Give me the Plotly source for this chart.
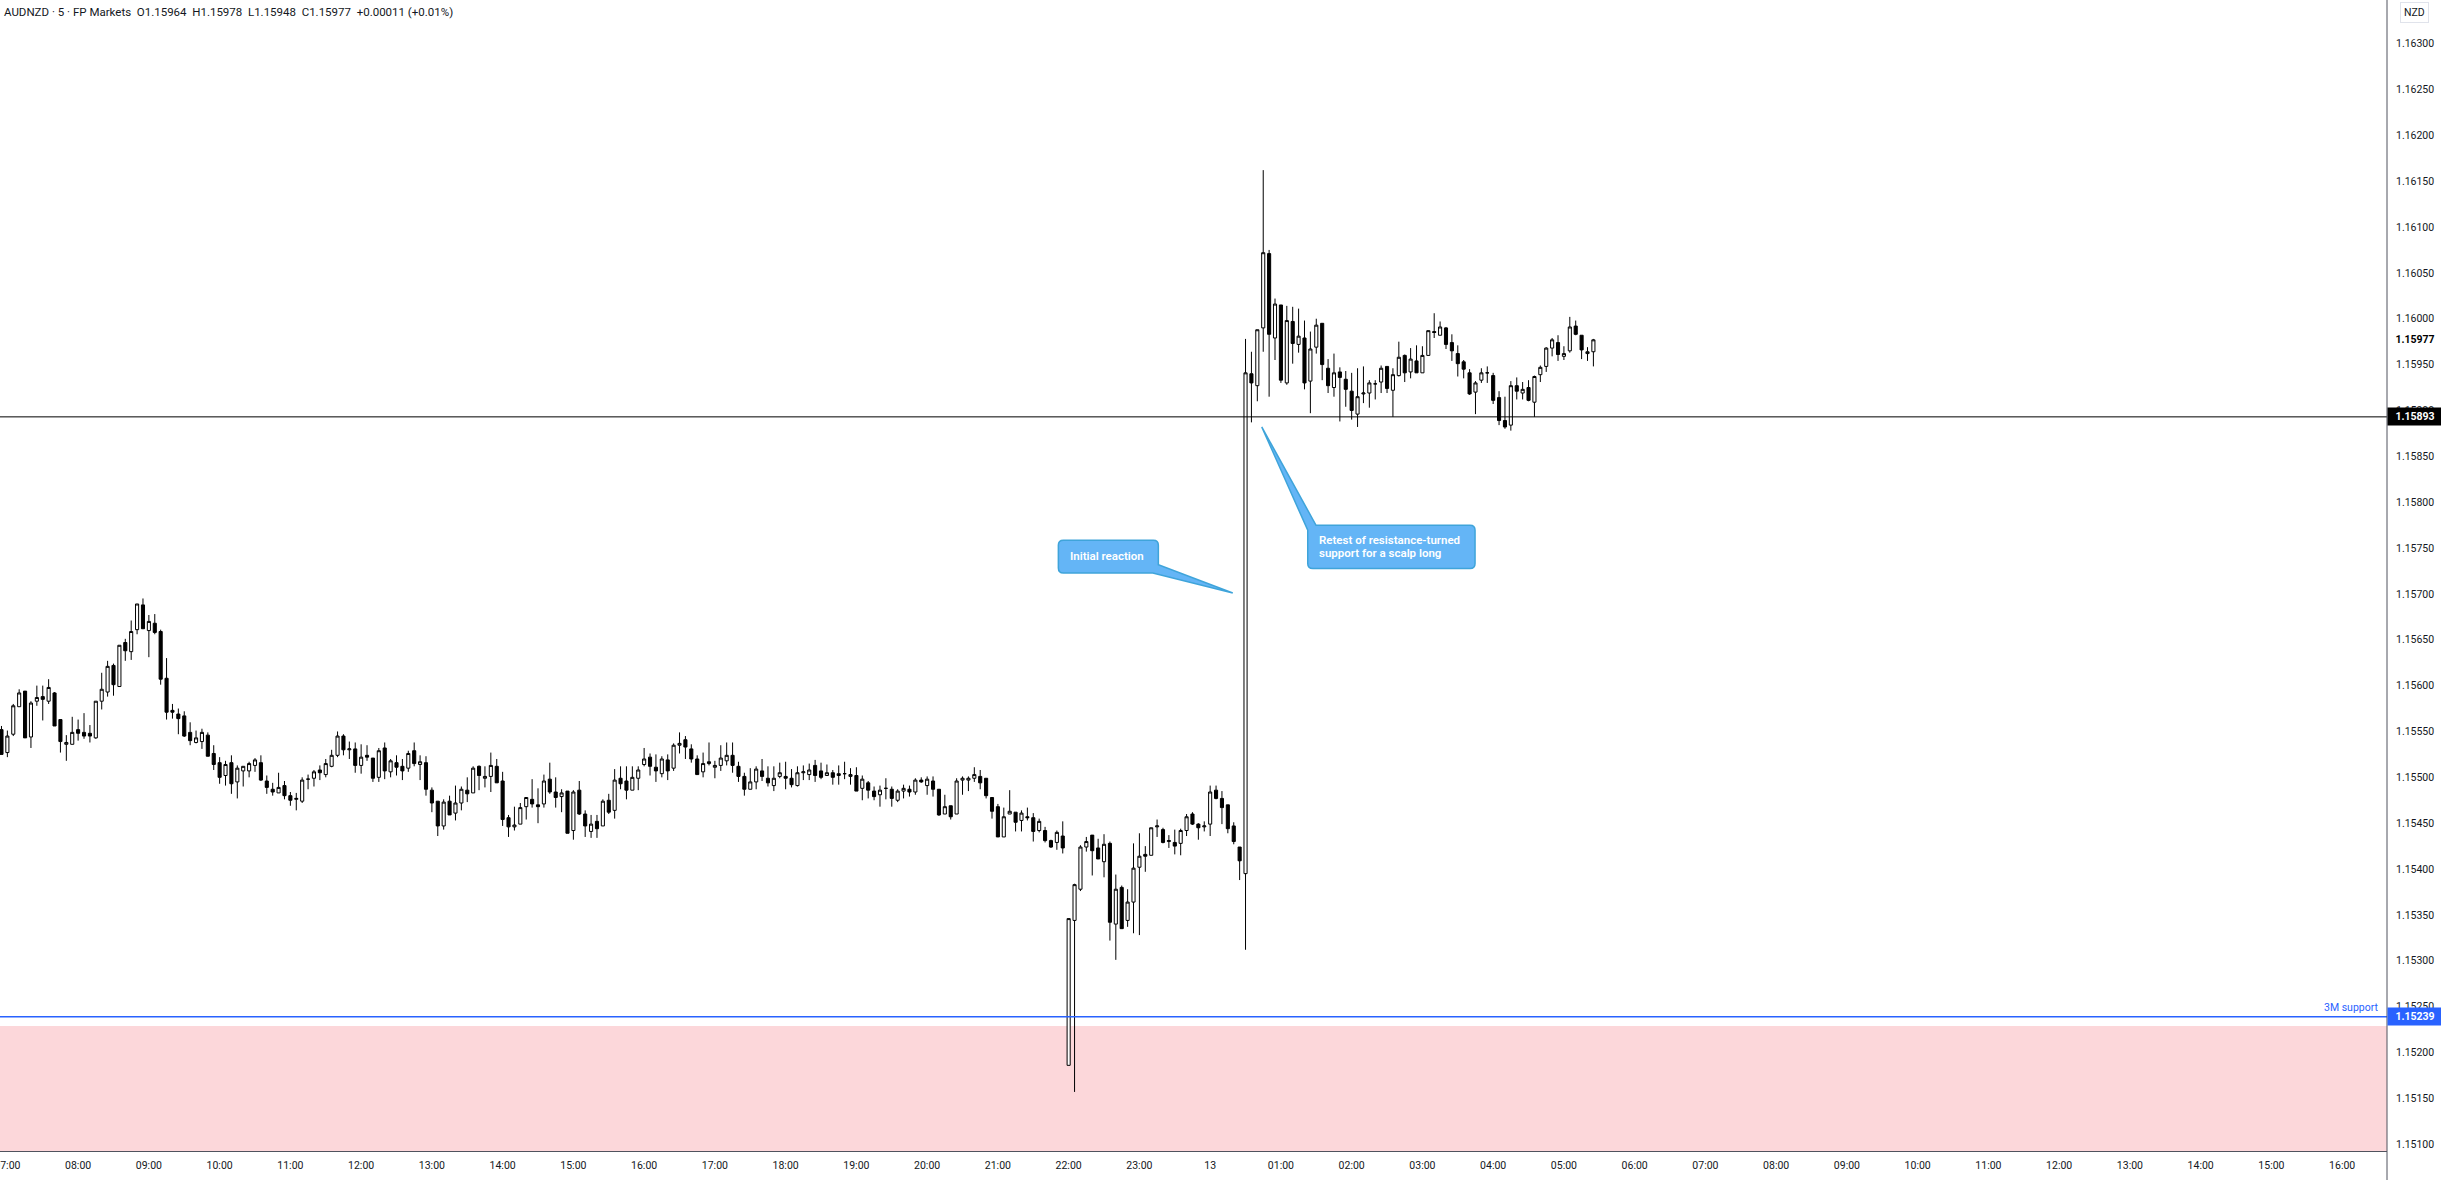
import plotly.graph_objects as go
import pandas as pd

# ---------------- data (AUDNZD, 5-minute candles) ----------------
open_ = [
    1.15552,1.15527,1.15547,1.15577,1.15594,1.15544,1.15583,1.15588,1.15583,1.15592,
    1.15563,1.15536,1.15536,1.15552,1.15549,1.15548,1.15543,1.15583,1.15593,1.15622,
    1.15599,1.15647,1.15637,1.15661,1.15688,1.15660,1.15668,1.15659,1.15608,1.15573,
    1.15569,1.15567,1.15549,1.15538,1.15539,1.15546,1.15526,1.15516,1.15502,1.15516,
    1.15495,1.15507,1.15507,1.15513,1.15516,1.15496,1.15487,1.15483,1.15491,1.15480,
    1.15476,1.15474,1.15498,1.15499,1.15508,1.15503,1.15512,1.15524,1.15545,1.15530,
    1.15531,1.15513,1.15524,1.15521,1.15500,1.15532,1.15506,1.15516,1.15512,1.15510,
    1.15529,1.15514,1.15516,1.15486,1.15474,1.15447,1.15474,1.15461,1.15472,1.15486,
    1.15483,1.15512,1.15499,1.15501,1.15512,1.15496,1.15456,1.15446,1.15449,1.15468,
    1.15476,1.15470,1.15471,1.15498,1.15484,1.15479,1.15485,1.15442,1.15486,1.15460,
    1.15441,1.15452,1.15447,1.15475,1.15464,1.15499,1.15496,1.15486,1.15499,1.15514,
    1.15522,1.15511,1.15504,1.15519,1.15510,1.15535,1.15541,1.15531,1.15520,1.15506,
    1.15515,1.15511,1.15513,1.15518,1.15524,1.15512,1.15501,1.15487,1.15495,1.15507,
    1.15499,1.15491,1.15501,1.15501,1.15499,1.15491,1.15505,1.15503,1.15513,1.15507,
    1.15502,1.15505,1.15502,1.15504,1.15501,1.15502,1.15488,1.15494,1.15485,1.15481,
    1.15488,1.15487,1.15475,1.15485,1.15487,1.15484,1.15497,1.15491,1.15496,1.15487,
    1.15460,1.15469,1.15460,1.15497,1.15497,1.15499,1.15501,1.15499,1.15478,1.15468,
    1.15435,1.15460,1.15462,1.15453,1.15457,1.15456,1.15442,1.15442,1.15431,1.15429,
    1.15436,1.15186,1.15344,1.15378,1.15424,1.15437,1.15423,1.15408,1.15428,1.15340,
    1.15380,1.15344,1.15364,1.15402,1.15416,1.15415,1.15446,1.15443,1.15430,1.15429,
    1.15428,1.15442,1.15460,1.15449,1.15446,1.15449,1.15486,1.15477,1.15470,1.15447,
    1.15424,1.15395,1.15940,1.15927,1.15990,1.16071,1.15979,1.16015,1.15930,1.15997,
    1.15972,1.15979,1.15932,1.15969,1.15995,1.15946,1.15925,1.15942,1.15934,1.15921,
    1.15896,1.15918,1.15919,1.15929,1.15931,1.15948,1.15922,1.15938,1.15960,1.15942,
    1.15954,1.15941,1.15960,1.15986,1.15982,1.15990,1.15974,1.15962,1.15953,1.15941,
    1.15920,1.15933,1.15941,1.15938,1.15914,1.15889,1.15884,1.15927,1.15919,1.15925,
    1.15909,1.15939,1.15948,1.15968,1.15974,1.15959,1.15965,1.15992,1.15982,1.15962,
    1.15964,
]
high_ = [
    1.15556,1.15551,1.15580,1.15596,1.15594,1.15583,1.15600,1.15600,1.15607,1.15593,
    1.15563,1.15546,1.15566,1.15563,1.15570,1.15557,1.15583,1.15614,1.15627,1.15624,
    1.15644,1.15651,1.15671,1.15689,1.15695,1.15677,1.15678,1.15661,1.15630,1.15580,
    1.15575,1.15572,1.15560,1.15551,1.15553,1.15549,1.15535,1.15522,1.15518,1.15524,
    1.15513,1.15512,1.15517,1.15521,1.15524,1.15502,1.15494,1.15505,1.15496,1.15484,
    1.15483,1.15500,1.15503,1.15508,1.15513,1.15520,1.15530,1.15550,1.15547,1.15539,
    1.15538,1.15536,1.15535,1.15521,1.15532,1.15538,1.15520,1.15524,1.15520,1.15529,
    1.15538,1.15524,1.15523,1.15489,1.15474,1.15476,1.15480,1.15491,1.15490,1.15500,
    1.15512,1.15513,1.15512,1.15527,1.15520,1.15506,1.15459,1.15468,1.15472,1.15478,
    1.15498,1.15488,1.15503,1.15516,1.15500,1.15487,1.15485,1.15486,1.15496,1.15464,
    1.15459,1.15459,1.15476,1.15482,1.15509,1.15512,1.15512,1.15512,1.15512,1.15532,
    1.15526,1.15525,1.15523,1.15525,1.15537,1.15549,1.15545,1.15536,1.15524,1.15527,
    1.15538,1.15518,1.15535,1.15538,1.15538,1.15517,1.15505,1.15510,1.15512,1.15520,
    1.15512,1.15512,1.15516,1.15517,1.15509,1.15512,1.15513,1.15515,1.15519,1.15516,
    1.15514,1.15508,1.15513,1.15517,1.15510,1.15511,1.15502,1.15496,1.15490,1.15491,
    1.15499,1.15490,1.15487,1.15492,1.15491,1.15499,1.15500,1.15501,1.15501,1.15487,
    1.15481,1.15469,1.15499,1.15501,1.15501,1.15511,1.15508,1.15499,1.15478,1.15471,
    1.15467,1.15486,1.15462,1.15464,1.15467,1.15461,1.15455,1.15446,1.15432,1.15442,
    1.15452,1.15346,1.15384,1.15426,1.15435,1.15437,1.15433,1.15438,1.15430,1.15394,
    1.15382,1.15378,1.15428,1.15439,1.15425,1.15445,1.15454,1.15445,1.15437,1.15443,
    1.15444,1.15460,1.15462,1.15450,1.15452,1.15491,1.15491,1.15485,1.15470,1.15451,
    1.15424,1.15978,1.15964,1.15988,1.16162,1.16075,1.16022,1.16015,1.16014,1.16013,
    1.16011,1.15998,1.15986,1.16000,1.15995,1.15956,1.15962,1.15947,1.15943,1.15941,
    1.15946,1.15948,1.15933,1.15933,1.15949,1.15948,1.15946,1.15975,1.15961,1.15968,
    1.15971,1.15970,1.15987,1.16006,1.15997,1.15991,1.15983,1.15971,1.15955,1.15945,
    1.15932,1.15946,1.15948,1.15941,1.15921,1.15915,1.15932,1.15936,1.15931,1.15933,
    1.15938,1.15949,1.15969,1.15979,1.15982,1.15970,1.16002,1.15998,1.15982,1.15969,
    1.15978,
]
low_ = [
    1.15525,1.15522,1.15545,1.15577,1.15543,1.15532,1.15578,1.15562,1.15580,1.15556,
    1.15527,1.15518,1.15536,1.15540,1.15542,1.15538,1.15542,1.15574,1.15588,1.15589,
    1.15599,1.15627,1.15628,1.15656,1.15662,1.15631,1.15656,1.15601,1.15563,1.15564,
    1.15547,1.15544,1.15535,1.15537,1.15531,1.15523,1.15508,1.15493,1.15491,1.15482,
    1.15477,1.15490,1.15500,1.15506,1.15496,1.15482,1.15480,1.15483,1.15476,1.15469,
    1.15464,1.15472,1.15487,1.15490,1.15497,1.15500,1.15511,1.15522,1.15524,1.15520,
    1.15505,1.15504,1.15518,1.15495,1.15495,1.15498,1.15500,1.15502,1.15497,1.15506,
    1.15512,1.15497,1.15480,1.15462,1.15436,1.15443,1.15459,1.15453,1.15464,1.15473,
    1.15483,1.15486,1.15489,1.15484,1.15494,1.15447,1.15435,1.15442,1.15449,1.15454,
    1.15467,1.15450,1.15467,1.15482,1.15467,1.15462,1.15439,1.15432,1.15459,1.15435,
    1.15434,1.15434,1.15447,1.15460,1.15455,1.15487,1.15476,1.15486,1.15486,1.15512,
    1.15502,1.15495,1.15500,1.15497,1.15507,1.15526,1.15520,1.15516,1.15503,1.15500,
    1.15513,1.15499,1.15507,1.15513,1.15505,1.15495,1.15480,1.15487,1.15487,1.15496,
    1.15490,1.15485,1.15499,1.15487,1.15489,1.15490,1.15497,1.15497,1.15495,1.15498,
    1.15502,1.15492,1.15492,1.15498,1.15492,1.15485,1.15475,1.15477,1.15475,1.15468,
    1.15476,1.15468,1.15473,1.15477,1.15479,1.15481,1.15494,1.15481,1.15479,1.15458,
    1.15460,1.15454,1.15460,1.15481,1.15485,1.15495,1.15487,1.15477,1.15455,1.15435,
    1.15435,1.15460,1.15441,1.15441,1.15453,1.15430,1.15440,1.15429,1.15423,1.15421,
    1.15417,1.15186,1.15157,1.15376,1.15419,1.15393,1.15411,1.15391,1.15322,1.15301,
    1.15335,1.15337,1.15330,1.15328,1.15397,1.15415,1.15435,1.15428,1.15423,1.15416,
    1.15415,1.15436,1.15448,1.15432,1.15441,1.15436,1.15476,1.15449,1.15439,1.15427,
    1.15388,1.15312,1.15887,1.15910,1.15964,1.15915,1.15955,1.15930,1.15928,1.15951,
    1.15963,1.15923,1.15897,1.15962,1.15933,1.15919,1.15915,1.15888,1.15904,1.15890,
    1.15882,1.15908,1.15903,1.15912,1.15919,1.15919,1.15893,1.15937,1.15931,1.15935,
    1.15941,1.15941,1.15960,1.15979,1.15982,1.15967,1.15954,1.15937,1.15935,1.15917,
    1.15896,1.15930,1.15930,1.15907,1.15884,1.15880,1.15878,1.15912,1.15912,1.15910,
    1.15893,1.15931,1.15942,1.15959,1.15954,1.15955,1.15963,1.15982,1.15956,1.15954,
    1.15948,
]
close_ = [
    1.15525,1.15545,1.15578,1.15592,1.15543,1.15581,1.15587,1.15585,1.15598,1.15556,
    1.15539,1.15538,1.15549,1.15548,1.15545,1.15545,1.15583,1.15596,1.15621,1.15601,
    1.15644,1.15638,1.15659,1.15689,1.15662,1.15670,1.15658,1.15607,1.15571,1.15571,
    1.15564,1.15545,1.15540,1.15543,1.15549,1.15523,1.15514,1.15500,1.15514,1.15493,
    1.15510,1.15512,1.15515,1.15519,1.15497,1.15489,1.15484,1.15489,1.15480,1.15475,
    1.15477,1.15497,1.15498,1.15506,1.15505,1.15515,1.15524,1.15545,1.15530,1.15531,
    1.15513,1.15522,1.15522,1.15499,1.15529,1.15507,1.15518,1.15511,1.15507,1.15526,
    1.15515,1.15517,1.15487,1.15472,1.15447,1.15473,1.15459,1.15472,1.15487,1.15482,
    1.15510,1.15502,1.15501,1.15513,1.15494,1.15454,1.15446,1.15448,1.15467,1.15478,
    1.15471,1.15468,1.15496,1.15484,1.15478,1.15483,1.15439,1.15484,1.15460,1.15447,
    1.15449,1.15444,1.15474,1.15462,1.15497,1.15493,1.15486,1.15500,1.15508,1.15520,
    1.15512,1.15507,1.15520,1.15507,1.15535,1.15537,1.15533,1.15520,1.15503,1.15515,
    1.15517,1.15513,1.15521,1.15524,1.15513,1.15501,1.15487,1.15495,1.15509,1.15501,
    1.15494,1.15499,1.15505,1.15499,1.15492,1.15505,1.15506,1.15508,1.15502,1.15500,
    1.15505,1.15500,1.15504,1.15504,1.15503,1.15485,1.15498,1.15486,1.15479,1.15486,
    1.15488,1.15477,1.15485,1.15488,1.15484,1.15497,1.15495,1.15498,1.15487,1.15459,
    1.15468,1.15457,1.15496,1.15499,1.15499,1.15503,1.15494,1.15480,1.15463,1.15435,
    1.15457,1.15463,1.15451,1.15461,1.15456,1.15441,1.15452,1.15431,1.15424,1.15440,
    1.15423,1.15346,1.15383,1.15424,1.15430,1.15420,1.15411,1.15427,1.15342,1.15378,
    1.15335,1.15364,1.15401,1.15414,1.15414,1.15445,1.15447,1.15429,1.15431,1.15425,
    1.15442,1.15457,1.15449,1.15445,1.15447,1.15484,1.15477,1.15467,1.15444,1.15430,
    1.15409,1.15941,1.15930,1.15988,1.16072,1.15983,1.16016,1.15933,1.15998,1.15973,
    1.15981,1.15930,1.15967,1.15993,1.15950,1.15927,1.15941,1.15936,1.15923,1.15900,
    1.15915,1.15919,1.15930,1.15929,1.15946,1.15924,1.15939,1.15958,1.15941,1.15956,
    1.15941,1.15960,1.15987,1.15985,1.15991,1.15972,1.15965,1.15951,1.15945,1.15918,
    1.15930,1.15941,1.15941,1.15911,1.15889,1.15882,1.15927,1.15921,1.15923,1.15911,
    1.15937,1.15947,1.15968,1.15977,1.15961,1.15962,1.15991,1.15983,1.15966,1.15964,
    1.15977,
]
first_bar = "2023-06-12 06:55"
times = pd.date_range(first_bar, periods=len(open_), freq="5min")

tick_times = pd.date_range("2023-06-12 07:00", "2023-06-13 16:00", freq="1h")
tick_labels = ["07:00", "08:00", "09:00", "10:00", "11:00", "12:00", "13:00", "14:00",
               "15:00", "16:00", "17:00", "18:00", "19:00", "20:00", "21:00", "22:00",
               "23:00", "13", "01:00", "02:00", "03:00", "04:00", "05:00", "06:00",
               "07:00", "08:00", "09:00", "10:00", "11:00", "12:00", "13:00", "14:00",
               "15:00", "16:00"]

sr_level = 1.15893        # resistance-turned support
support_3m = 1.15239      # 3M support
zone_top = 1.15229        # top of pink demand zone
last_price = 1.15977

header = ("AUDNZD · 5 · FP Markets  O1.15964  H1.15978  L1.15948  C1.15977  "
          "+0.00011 (+0.01%)")

# ---------------- layout geometry ----------------
W, H = 2441, 1180
ML, MR, MT, MB = 0, 54, 0, 29
PW, PH = W - ML - MR, H - MT - MB
x_range = ["2023-06-12 06:53:45", "2023-06-13 16:38:00"]
y_range = [1.150926, 1.163475]
FONT = "Roboto"
TXT = "#131722"

t0, t1 = pd.Timestamp(x_range[0]), pd.Timestamp(x_range[1])


def px_x(t):
    return (pd.Timestamp(t) - t0) / (t1 - t0) * PW


def px_y(p):
    return (1 - (p - y_range[0]) / (y_range[1] - y_range[0])) * PH


def paper(px, py):
    return f"{px / PW:.6f},{1 - py / PH:.6f}"


fig = go.Figure()
fig.add_trace(go.Candlestick(
    x=times, open=open_, high=high_, low=low_, close=close_,
    increasing=dict(line=dict(color="#000000", width=1), fillcolor="#ffffff"),
    decreasing=dict(line=dict(color="#000000", width=1), fillcolor="#000000"),
    whiskerwidth=0, hoverinfo="skip", showlegend=False,
))

shapes = []
# pink zone
shapes.append(dict(type="rect", xref="paper", yref="y", x0=0, x1=1,
                   y0=y_range[0] - 0.001, y1=zone_top,
                   fillcolor="rgba(242,54,69,0.2)", line=dict(width=0), layer="below"))
# 3M support line
shapes.append(dict(type="line", xref="paper", yref="y", x0=0, x1=1,
                   y0=support_3m, y1=support_3m, line=dict(color="#2962FF", width=1.5)))
# S/R line
shapes.append(dict(type="line", xref="paper", yref="y", x0=0, x1=1,
                   y0=sr_level, y1=sr_level, line=dict(color="#000000", width=1)))
# vertical axis divider extending to the bottom
shapes.append(dict(type="line", xref="paper", yref="paper", x0=1, x1=1,
                   y0=-MB / PH, y1=1, line=dict(color="#50535E", width=1)))

CALLOUT_FILL = "#64B5F6"
CALLOUT_LINE = "#3FA4DA"
r = 5

# callout 1 ("Initial reaction"): tip in data space, box offsets in px
tx, ty = px_x("2023-06-13 00:19:10"), px_y(1.15701)
x0, y0, x1, y1 = tx - 174.4, ty - 52.6, tx - 74.4, ty - 20.0
path1 = (f"M {paper(x0 + r, y0)} L {paper(x1 - r, y0)} Q {paper(x1, y0)} {paper(x1, y0 + r)} "
         f"L {paper(x1, ty - 28.3)} L {paper(tx, ty)} L {paper(tx - 80.0, y1)} "
         f"L {paper(x0 + r, y1)} Q {paper(x0, y1)} {paper(x0, y1 - r)} "
         f"L {paper(x0, y0 + r)} Q {paper(x0, y0)} {paper(x0 + r, y0)} Z")
shapes.append(dict(type="path", xref="paper", yref="paper", path=path1,
                   fillcolor=CALLOUT_FILL, line=dict(color=CALLOUT_LINE, width=1.5)))
c1_text = (tx - 163.7, ty - 37.3)

# callout 2 ("Retest ...")
tx2, ty2 = px_x("2023-06-13 00:43:45"), px_y(1.15882)
a0, b0, a1, b1 = tx2 + 46.0, ty2 + 98.3, tx2 + 213.3, ty2 + 141.6
path2 = (f"M {paper(tx2 + 54.3, b0)} L {paper(a1 - r, b0)} Q {paper(a1, b0)} {paper(a1, b0 + r)} "
         f"L {paper(a1, b1 - r)} Q {paper(a1, b1)} {paper(a1 - r, b1)} "
         f"L {paper(a0 + r, b1)} Q {paper(a0, b1)} {paper(a0, b1 - r)} "
         f"L {paper(a0, ty2 + 103.3)} L {paper(tx2, ty2)} Z")
shapes.append(dict(type="path", xref="paper", yref="paper", path=path2,
                   fillcolor=CALLOUT_FILL, line=dict(color=CALLOUT_LINE, width=1.5)))
c2_lines = [("Retest of resistance-turned", tx2 + 56.6, ty2 + 113.3),
            ("support for a scalp long", tx2 + 56.6, ty2 + 125.6)]

annotations = []
cfont = dict(family=FONT, size=11.5, color="#ffffff", weight=600)
annotations.append(dict(xref="paper", yref="paper", x=c1_text[0] / PW, y=1 - c1_text[1] / PH,
                        xanchor="left", yanchor="middle", text="Initial reaction",
                        showarrow=False, font=cfont, borderpad=0))
for txt, lx, ly in c2_lines:
    annotations.append(dict(xref="paper", yref="paper", x=lx / PW, y=1 - ly / PH,
                            xanchor="left", yanchor="middle", text=txt,
                            showarrow=False, font=cfont, borderpad=0))

# header
annotations.append(dict(xref="paper", yref="paper", x=3 / PW, y=1 - 12 / PH,
                        xanchor="left", yanchor="middle", text=header, showarrow=False,
                        font=dict(family=FONT, size=11.5, color=TXT), borderpad=0))
# NZD currency label
annotations.append(dict(xref="paper", yref="paper", x=1 + 27 / PW, y=1 - 13 / PH,
                        xanchor="center", yanchor="middle", text="NZD", showarrow=False,
                        font=dict(family=FONT, size=10.5, color=TXT),
                        bordercolor="#E0E3EB", borderwidth=1, borderpad=3))
# 3M support text
annotations.append(dict(xref="paper", yref="y", x=1 - 7 / PW, y=support_3m,
                        xanchor="right", yanchor="bottom", yshift=1, text="3M support",
                        showarrow=False, font=dict(family=FONT, size=10.5, color="#2962FF")))
# price boxes on the axis
annotations.append(dict(xref="paper", yref="y", x=1, y=sr_level, xanchor="left",
                        yanchor="middle", text="<b>1.15893</b>", showarrow=False,
                        bgcolor="#000000", width=MR - 4, borderpad=2, align="center",
                        font=dict(family=FONT, size=10.5, color="#ffffff")))
annotations.append(dict(xref="paper", yref="y", x=1, y=support_3m, xanchor="left",
                        yanchor="middle", text="<b>1.15239</b>", showarrow=False,
                        bgcolor="#2962FF", width=MR - 4, borderpad=2, align="center",
                        font=dict(family=FONT, size=10.5, color="#ffffff")))
annotations.append(dict(xref="paper", yref="y", x=1, y=last_price, xanchor="left",
                        yanchor="middle", text="<b>1.15977</b>", showarrow=False,
                        width=MR - 4, borderpad=2, align="center",
                        font=dict(family=FONT, size=10.5, color="#000000")))

fig.update_layout(
    width=W, height=H, margin=dict(l=ML, r=MR, t=MT, b=MB, autoexpand=False),
    paper_bgcolor="#ffffff", plot_bgcolor="#ffffff",
    showlegend=False, boxgap=0.25, hovermode=False,
    shapes=shapes, annotations=annotations,
    font=dict(family=FONT, size=10.5, color=TXT),
)
fig.update_xaxes(
    type="date", range=x_range, rangeslider=dict(visible=False), automargin=False,
    tickmode="array", tickvals=tick_times, ticktext=tick_labels,
    showgrid=False, zeroline=False, showline=True, linecolor="#50535E", linewidth=1,
    ticks="", ticklabelstandoff=4, ticklabeloverflow="allow",
    tickfont=dict(family=FONT, size=10.5, color=TXT),
)
fig.update_yaxes(
    side="right", range=y_range, tick0=1.151, dtick=0.0005, tickformat=".5f",
    automargin=False,
    showgrid=False, zeroline=False, showline=False,
    ticks="", ticklabelstandoff=8, tickfont=dict(family=FONT, size=10.5, color=TXT),
)

fig.write_html("out.html", config={"displayModeBar": False},
               post_script="document.body.style.margin='0';document.body.style.overflow='hidden';")
